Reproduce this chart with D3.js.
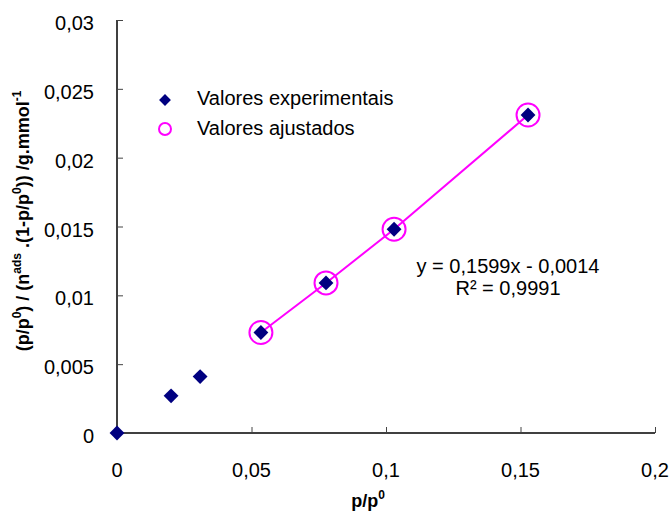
<!DOCTYPE html>
<html>
<head>
<meta charset="utf-8">
<script src="https://cdn.jsdelivr.net/npm/d3@7"></script>
<style>
	body { margin: 0; background: #fff; }
	svg { font-family: "Liberation Sans", Arial, sans-serif; }
</style>
</head>
<body>
<div id="chart"></div>
<script>
// values
const expX = [0, 0.0201, 0.0309, 0.0535, 0.0777, 0.103, 0.1528];
const expY = [0, 0.0027, 0.0041, 0.0073, 0.0109, 0.0148, 0.0231];
const fitX = [0.0535, 0.0777, 0.103, 0.1528];
const fitY = [0.0073, 0.0109, 0.0148, 0.0231];
const xTicks = [0, 0.05, 0.1, 0.15, 0.2];
const yTicks = [0, 0.005, 0.01, 0.015, 0.02, 0.025, 0.03];
const legendLabels = ["Valores experimentais", "Valores ajustados"];
const equationLines = ["y = 0,1599x - 0,0014", "R² = 0,9991"];

const width = 672;
const height = 513;
const navy = "#000080";
const magenta = "#ff00ff";

const fmt = d => String(d).replace(".", ",");

const svg = d3.select("#chart")
	.append("svg")
	.attr("width", width)
	.attr("height", height);

const x = d3.scaleLinear().domain([0, 0.2]).range([117, 655]);
const y = d3.scaleLinear().domain([0, 0.03]).range([433, 20]);

// axes, ticks pointing inward
const xAxis = svg.append("g")
	.attr("transform", `translate(0, ${y(0)})`)
	.call(d3.axisTop(x).tickValues(xTicks).tickSize(6).tickFormat(""));
xAxis.select(".domain").attr("d", `M${x(0)},0H${x(0.2)}`).attr("stroke", "#000").attr("stroke-width", 1.5);
xAxis.selectAll(".tick line").attr("stroke", "#444");

const yAxis = svg.append("g")
	.attr("transform", `translate(${x(0)}, 0)`)
	.call(d3.axisRight(y).tickValues(yTicks).tickSize(6).tickFormat(""));
yAxis.select(".domain").attr("d", `M0,${y(0.03)}V${y(0)}`).attr("stroke", "#000").attr("stroke-width", 1.5);
yAxis.selectAll(".tick line").attr("stroke", "#444");

// tick labels
svg.append("g").selectAll("text")
	.data(xTicks)
	.join("text")
	.attr("x", d => x(d))
	.attr("y", 477)
	.attr("text-anchor", "middle")
	.style("font-size", "20px")
	.text(fmt);

svg.append("g").selectAll("text")
	.data(yTicks)
	.join("text")
	.attr("x", 94)
	.attr("y", d => y(d) + 10)
	.attr("text-anchor", "end")
	.style("font-size", "20px")
	.text(fmt);

// axis titles
const xTitle = svg.append("text")
	.attr("x", 368)
	.attr("y", 507)
	.attr("text-anchor", "middle")
	.style("font-size", "18px")
	.style("font-weight", "bold");
xTitle.append("tspan").text("p/p");
xTitle.append("tspan").attr("dy", -8).style("font-size", "12px").text("0");

const yTitle = svg.append("text")
	.attr("transform", "translate(29, 221) rotate(-90)")
	.attr("text-anchor", "middle")
	.style("font-size", "18px")
	.style("font-weight", "bold");
const yParts = [
	["(p/p", 0], ["0", 1], [") / (n", 0], ["ads", 1], [" .(1-p/p", 0], ["0", 1], [")) /g.mmol", 0], ["-1", 1]
];
let lastSup = 0;
yParts.forEach(([t, sup]) => {
	yTitle.append("tspan")
		.attr("dy", (sup - lastSup) * -8)
		.style("font-size", sup ? "12px" : "18px")
		.text(t);
	lastSup = sup;
});

// fitted line
svg.append("path")
	.datum(fitX.map((d, i) => [d, fitY[i]]))
	.attr("d", d3.line().x(d => x(d[0])).y(d => y(d[1])))
	.attr("fill", "none")
	.attr("stroke", magenta)
	.attr("stroke-width", 2);

// experimental points
const diamond = d3.symbol().type(d3.symbolSquare).size(110);
svg.append("g").selectAll("path")
	.data(expX.map((d, i) => [d, expY[i]]))
	.join("path")
	.attr("d", diamond)
	.attr("transform", d => `translate(${x(d[0])}, ${y(d[1])}) rotate(45)`)
	.attr("fill", navy);

// fitted points
svg.append("g").selectAll("circle")
	.data(fitX.map((d, i) => [d, fitY[i]]))
	.join("circle")
	.attr("cx", d => x(d[0]))
	.attr("cy", d => y(d[1]))
	.attr("r", 11.5)
	.attr("fill", "none")
	.attr("stroke", magenta)
	.attr("stroke-width", 2);

// legend
const legend = svg.append("g");
legend.append("path")
	.attr("d", d3.symbol().type(d3.symbolSquare).size(70))
	.attr("transform", "translate(165, 100) rotate(45)")
	.attr("fill", navy);
legend.append("circle")
	.attr("cx", 165).attr("cy", 129).attr("r", 6)
	.attr("fill", "none")
	.attr("stroke", magenta)
	.attr("stroke-width", 2);
legend.selectAll("text")
	.data(legendLabels)
	.join("text")
	.attr("x", 197)
	.attr("y", (d, i) => 105 + i * 30)
	.style("font-size", "20px")
	.text(d => d);

// regression equation
svg.append("g").selectAll("text")
	.data(equationLines)
	.join("text")
	.attr("x", 508)
	.attr("y", (d, i) => 273 + i * 22)
	.attr("text-anchor", "middle")
	.style("font-size", "20px")
	.text(d => d);
</script>
</body>
</html>
